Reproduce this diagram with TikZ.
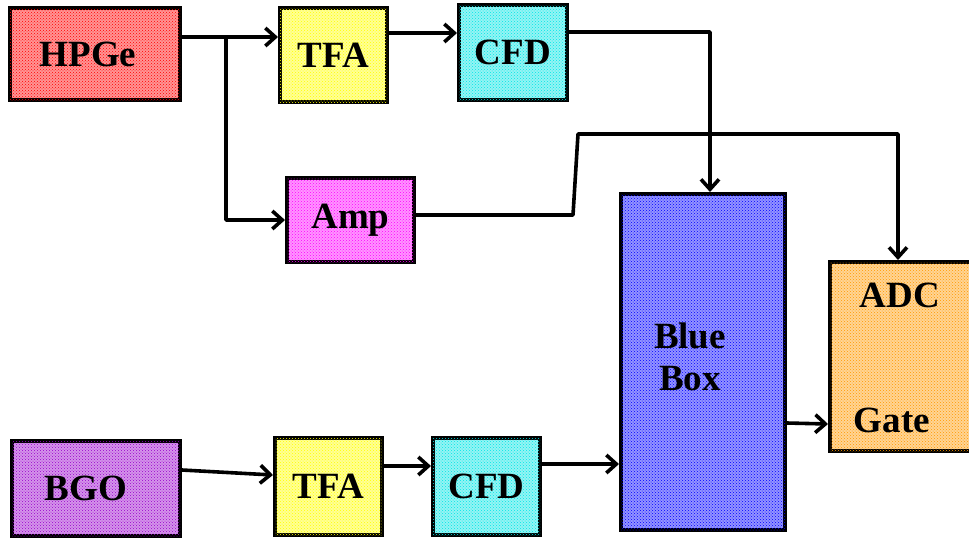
\documentclass[tikz,border=0pt]{standalone}
\usepackage{fontspec}
\setmainfont{Liberation Serif}
\usetikzlibrary{arrows.meta,patterns}
\definecolor{cred}{RGB}{255,0,0}
\definecolor{cyel}{RGB}{255,255,0}
\definecolor{ccyan}{RGB}{0,230,230}
\definecolor{cmag}{RGB}{255,0,255}
\definecolor{cblue}{RGB}{0,0,255}
\definecolor{cpur}{RGB}{153,0,204}
\definecolor{corg}{RGB}{255,153,0}
\tikzset{
  box/.style={draw=black, line width=4pt, fill=#1!42, postaction={pattern=crosshatch dots, pattern color=#1},
     font=\fontsize{37}{40}\selectfont\bfseries, inner sep=0pt},
  txt/.style={font=\fontsize{37}{42}\selectfont\bfseries, inner sep=0pt, align=center},
  conn/.style={line width=3.6pt, line join=round},
  arr/.style={conn, -{Straight Barb[length=10pt,width=18pt,line width=3.6pt]}}
}
\begin{document}
\begin{tikzpicture}[x=1pt,y=1pt]
\useasboundingbox (0,0) rectangle (969,-539);
\fill[white] (0,0) rectangle (969,-539);
% boxes
\node[box=cred, minimum width=170, minimum height=92] (hpge) at (95,-54) {HPGe\hspace*{14pt}};
\node[box=cyel, minimum width=107, minimum height=94] (tfa1) at (333.5,-55) {TFA};
\node[box=ccyan, minimum width=108, minimum height=95] (cfd1) at (513,-52.5) {CFD};
\node[box=cmag, minimum width=127, minimum height=84] (amp) at (350.5,-220) {Amp};
\node[box=cblue, minimum width=164, minimum height=336] (blue) at (703,-362) {};
\node[box=corg, minimum width=145, minimum height=189] (adc) at (902.5,-356.5) {};
\node[box=cpur, minimum width=168, minimum height=95] (bgo) at (96,-488.5) {BGO\hspace*{20pt}};
\node[box=cyel, minimum width=107, minimum height=97] (tfa2) at (328.5,-486.5) {TFA};
\node[box=ccyan, minimum width=107, minimum height=97] (cfd2) at (486.5,-486.5) {CFD};
% texts inside large boxes
\node[txt] (bluetxt) at (690,-357) {Blue\\[0pt]Box};
\node[txt] (adctxt) at (900,-295) {ADC};
\node[txt] (gatetxt) at (892,-420) {Gate};
% junctions
\coordinate (j1) at (226,-37);
\coordinate (j2) at (710,-32);
\coordinate (j3) at (573,-215);
\coordinate (j4) at (578,-134);
\coordinate (j5) at (898,-134);
% connectors
\draw[conn] (hpge.east |- j1) -- (j1);
\draw[arr] (j1) -- (tfa1.west |- j1);
\draw[arr] (j1) |- (amp.west);
\draw[arr] ([yshift=22pt]tfa1.east) -- ([yshift=22pt]tfa1.east -| cfd1.west);
\draw[arr] (cfd1.east |- j2) -| (blue.north -| j2);
\draw[arr] (amp.east |- j3) -- (j3) -- (j4) -- (j5) -- (adc.north -| j5);
\draw[arr] ([yshift=18.5pt]bgo.east) -- ([yshift=11.5pt]tfa2.west);
\draw[arr] ([yshift=20.5pt]tfa2.east) -- ([yshift=20.5pt]tfa2.east -| cfd2.west);
\draw[arr] ([yshift=22.5pt]cfd2.east) -- ([yshift=22.5pt]cfd2.east -| blue.west);
\draw[arr] ([yshift=-61pt]blue.east) -- ([yshift=-67.5pt]adc.west);
\end{tikzpicture}
\end{document}
